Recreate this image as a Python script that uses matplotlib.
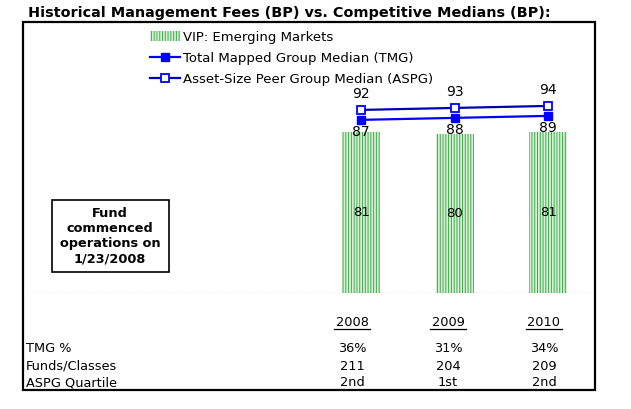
import matplotlib.pyplot as plt
from matplotlib.patches import Rectangle
from matplotlib.lines import Line2D

# chart data
years = ["2008", "2009", "2010"]
fund_fees = [81, 80, 81]
tmg_median = [87, 88, 89]
aspg_median = [92, 93, 94]

row_labels = ["TMG %", "Funds/Classes", "ASPG Quartile"]
tmg_pct = ["36%", "31%", "34%"]
funds_classes = ["211", "204", "209"]
aspg_quartile = ["2nd", "1st", "2nd"]

W, H = 631, 409
plt.rcParams["font.family"] = "DejaVu Sans"
fig = plt.figure(figsize=(W / 100, H / 100), dpi=100)


def fx(px):
    return px / W


def fy(py):
    return 1 - py / H


# plot area (pixel box inside the frame)
left, right, top, base = 23, 595, 22, 293
ax = fig.add_axes((fx(left), fy(base), fx(right - left), fy(top) - fy(base)))
ax.set_xlim(-3.615, 2.5)
ax.set_ylim(0, (base - top) / 1.99)
ax.axis("off")

xs = list(range(len(years)))
plt.rcParams["hatch.linewidth"] = 0.7
bars = ax.bar(xs, fund_fees, width=0.41, color="#d9efd9", edgecolor="#3cae45",
              hatch="||||||", linewidth=0, label="VIP: Emerging Markets")
(tmg_line,) = ax.plot(xs, tmg_median, color="#0000ff", lw=1.6, marker="s",
                      ms=6, mfc="#0000ff", mec="#0000ff",
                      label="Total Mapped Group Median (TMG)")
(aspg_line,) = ax.plot(xs, aspg_median, color="#0000b0", lw=1.6, marker="s",
                       ms=6, mfc="white", mec="#0000ff", mew=1.3,
                       label="Asset-Size Peer Group Median (ASPG)")

for x, v in zip(xs, fund_fees):
    ax.text(x, v / 2, str(v), ha="center", va="center", fontsize=9.5)
for x, v in zip(xs, tmg_median):
    ax.text(x, v - 2.5, str(v), ha="center", va="top", fontsize=10)
for x, v in zip(xs, aspg_median):
    ax.text(x, v + 4.5, str(v), ha="center", va="bottom", fontsize=10)

ax.axhline(0, xmin=0.012, xmax=1, color="#555555", lw=0.8, ls=(0, (1, 1)))

ax.legend(handles=[bars, tmg_line, aspg_line], loc="upper left",
          bbox_to_anchor=((141 - left) / (right - left), 1.0),
          frameon=False, fontsize=9.5, handlelength=2.3, handletextpad=0.25,
          labelspacing=0.62, borderpad=0.15)

# outer frame
fig.add_artist(Rectangle((fx(left), fy(390)), fx(right - left), fy(top) - fy(390),
                         transform=fig.transFigure, fill=False, ec="black", lw=1.6))

fig.text(fx(28), fy(13), "Historical Management Fees (BP) vs. Competitive Medians (BP):",
         fontsize=10.4, fontweight="bold", ha="left", va="center")

# note box
fig.add_artist(Rectangle((fx(52), fy(272)), fx(169 - 52), fy(200) - fy(272),
                         transform=fig.transFigure, fill=False, ec="black", lw=1.2))
fig.text(fx(110), fy(236), "Fund\ncommenced\noperations on\n1/23/2008",
         fontsize=9.3, fontweight="bold", ha="center", va="center", linespacing=1.2)

# table under chart
col_x = [352, 448, 544]
for cx, yr in zip(col_x, years):
    fig.text(fx(cx), fy(322), yr, fontsize=9.3, ha="center", va="center")
    fig.add_artist(Line2D([fx(cx - 18), fx(cx + 18)], [fy(329), fy(329)],
                          transform=fig.transFigure, color="black", lw=0.9))

rows = [tmg_pct, funds_classes, aspg_quartile]
row_y = [348, 366, 383]
for ry, lab, vals in zip(row_y, row_labels, rows):
    fig.text(fx(26), fy(ry), lab, fontsize=9.3, ha="left", va="center")
    for cx, v in zip(col_x, vals):
        fig.text(fx(cx), fy(ry), v, fontsize=9.3, ha="center", va="center")

fig.savefig("out.png", dpi=100)
